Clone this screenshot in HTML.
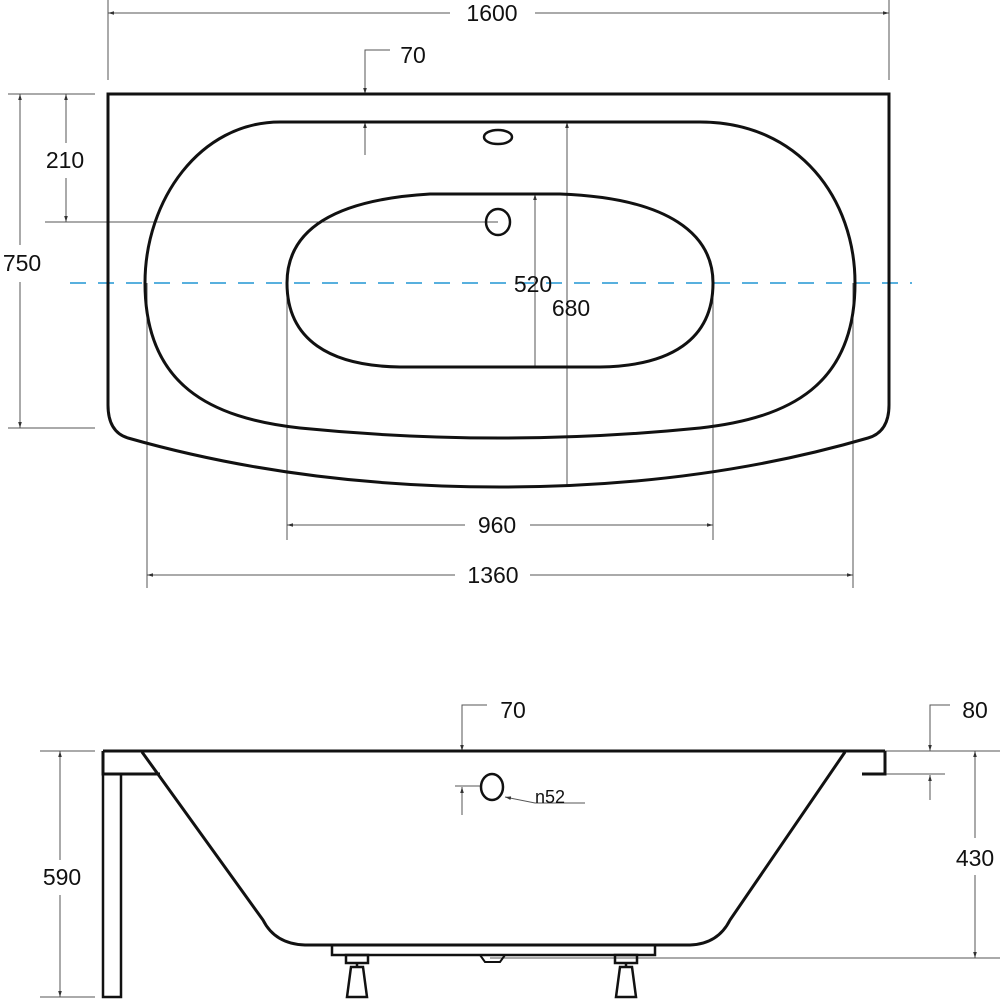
<!DOCTYPE html>
<html><head><style>body{margin:0;background:#fff}svg{display:block}text{font-family:"Liberation Sans",sans-serif;font-size:23px;fill:#111}</style></head>
<body>
<svg width="1000" height="1000" viewBox="0 0 1000 1000" xmlns="http://www.w3.org/2000/svg">
<defs><marker id="a" viewBox="0 0 10 10" refX="10" refY="5" markerWidth="6" markerHeight="6" orient="auto-start-reverse"><path d="M0,2 L10,5 L0,8 z" fill="#333"/></marker></defs>
<g stroke="#555" stroke-width="1" fill="none">
<line x1="108" y1="0" x2="108" y2="80"/><line x1="889" y1="0" x2="889" y2="80"/>
<line x1="108" y1="13" x2="450" y2="13" marker-start="url(#a)"/><line x1="535" y1="13" x2="889" y2="13" marker-end="url(#a)"/>
<polyline points="390,50 365,50 365,94" marker-end="url(#a)"/>
<line x1="365" y1="155" x2="365" y2="122" marker-end="url(#a)"/>
<line x1="8" y1="94" x2="95" y2="94"/><line x1="8" y1="428" x2="95" y2="428"/>
<line x1="20" y1="94" x2="20" y2="245" marker-start="url(#a)"/><line x1="20" y1="282" x2="20" y2="428" marker-end="url(#a)"/>
<line x1="66" y1="94" x2="66" y2="143" marker-start="url(#a)"/><line x1="66" y1="178" x2="66" y2="222" marker-end="url(#a)"/>
<line x1="45" y1="222" x2="498" y2="222"/>
<line x1="535" y1="368" x2="535" y2="194" marker-end="url(#a)"/><line x1="535" y1="368" x2="535" y2="298"/>
<line x1="567" y1="487" x2="567" y2="122" marker-end="url(#a)"/>
<line x1="287" y1="283" x2="287" y2="540"/><line x1="713" y1="283" x2="713" y2="540"/>
<line x1="287" y1="525" x2="465" y2="525" marker-start="url(#a)"/><line x1="530" y1="525" x2="713" y2="525" marker-end="url(#a)"/>
<line x1="147" y1="283" x2="147" y2="588"/><line x1="853" y1="283" x2="853" y2="588"/>
<line x1="147" y1="575" x2="455" y2="575" marker-start="url(#a)"/><line x1="530" y1="575" x2="853" y2="575" marker-end="url(#a)"/>
<!-- bottom view dims -->
<line x1="40" y1="751" x2="95" y2="751"/><line x1="40" y1="997" x2="95" y2="997"/>
<line x1="60" y1="751" x2="60" y2="860" marker-start="url(#a)"/><line x1="60" y1="895" x2="60" y2="997" marker-end="url(#a)"/>
<polyline points="487,705 462,705 462,751" marker-end="url(#a)"/>
<polyline points="950,705 930,705 930,751" marker-end="url(#a)"/>
<line x1="885" y1="774" x2="945" y2="774"/>
<line x1="930" y1="800" x2="930" y2="775" marker-end="url(#a)"/>
<line x1="885" y1="751" x2="1000" y2="751"/>
<line x1="490" y1="958" x2="1000" y2="958"/>
<line x1="975" y1="751" x2="975" y2="838" marker-start="url(#a)"/><line x1="975" y1="875" x2="975" y2="958" marker-end="url(#a)"/>
<line x1="455" y1="786" x2="480" y2="786"/>
<line x1="462" y1="815" x2="462" y2="787" marker-end="url(#a)"/>
<polyline points="585,803 535,803 505,797" marker-end="url(#a)"/>
</g>
<line x1="70" y1="283" x2="912" y2="283" stroke="#2196d3" stroke-width="1.5" stroke-dasharray="16,12"/>
<g stroke="#111" stroke-width="3" fill="none">
<path d="M108,94 L889,94 L889,405 Q889,432 868,438 Q700,487 500,487 Q300,487 128,438 Q108,432 108,405 Z"/>
<path d="M280,122 L700,122 C800,122 855,200 855,283 C855,385 790,418 700,428 Q500,448 300,428 C210,418 145,385 145,283 C145,200 200,122 280,122 Z"/>
<path d="M430,194 L560,194 C670,198 713,235 713,283 C713,340 670,366 600,367 L400,367 C330,366 287,340 287,283 C287,232 330,200 430,194 Z"/>
<ellipse cx="498" cy="137" rx="14" ry="7" stroke-width="2.5"/>
<ellipse cx="498" cy="222" rx="12" ry="13" stroke-width="2.5"/>
<!-- bottom view -->
<line x1="103" y1="751" x2="885" y2="751"/>
<path d="M103,751 L103,774 L160,774"/>
<path d="M862,774 L885,774 L885,751"/>
<rect x="103" y="774" width="18" height="223" stroke-width="2.5"/>
<path d="M142,752 L263,920 Q275,944 305,945 L690,945 Q718,944 730,920 L845,752"/>
<rect x="332" y="945" width="323" height="10" stroke-width="2.5"/>
<path d="M480,955 L485,962 L500,962 L505,955" stroke-width="2"/>
<g stroke-width="2.5">
<rect x="346" y="955" width="22" height="8"/><line x1="357" y1="963" x2="357" y2="967"/>
<path d="M351,967 L363,967 L367,997 L347,997 Z"/>
<rect x="615" y="955" width="22" height="8"/><line x1="626" y1="963" x2="626" y2="967"/>
<path d="M620,967 L632,967 L636,997 L616,997 Z"/>
</g>
<ellipse cx="492" cy="787" rx="11" ry="13" stroke-width="2.5"/>
</g>
<g text-anchor="middle">
<text x="492" y="21">1600</text>
<text x="413" y="63">70</text>
<text x="65" y="168">210</text>
<text x="22" y="271">750</text>
<text x="533" y="292">520</text>
<text x="571" y="316">680</text>
<text x="497" y="533">960</text>
<text x="493" y="583">1360</text>
<text x="513" y="718">70</text>
<text x="975" y="718">80</text>
<text x="550" y="803" style="font-size:18px">n52</text>
<text x="62" y="885">590</text>
<text x="975" y="866">430</text>
</g>
</svg>
</body></html>
